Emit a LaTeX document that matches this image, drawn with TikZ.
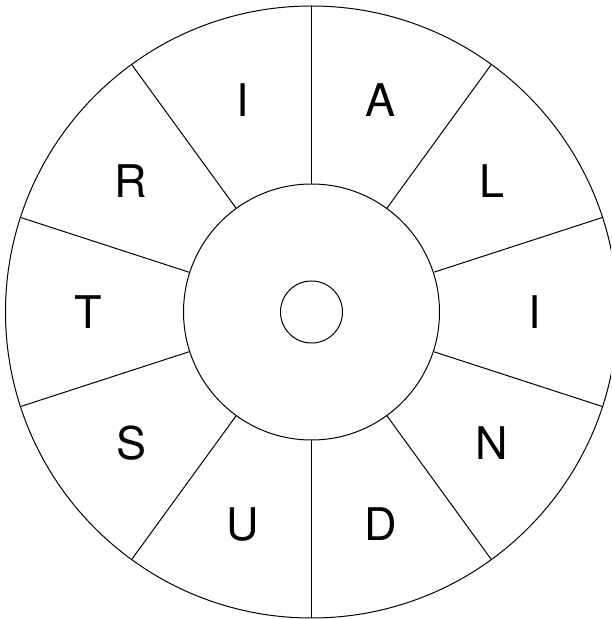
\documentclass[tikz,border=0pt]{standalone}
\usepackage{fontspec}
\setmainfont{TeX Gyre Heros}
\usetikzlibrary{calc}
\begin{document}
\begin{tikzpicture}[x=1pt,y=1pt,
  ring/.style={draw=black,line width=1pt},
  letter/.style={font=\fontsize{45}{45}\selectfont,inner sep=0pt,anchor=center}]
\useasboundingbox (0,0) rectangle (611,619);
\coordinate (c) at (311.5,307);
\begin{scope}
\clip (0,0) rectangle (611,619);
\draw[ring] (c) circle[radius=306];
\draw[ring] (c) circle[radius=128];
\draw[ring] (c) circle[radius=31];
\foreach \a in {90,54,18,-18,-54,-90,-126,-162,162,126}{
  \draw[ring] ($(c)+(\a:128)$) -- ($(c)+(\a:306)$);
}
\end{scope}
\foreach \a/\t/\n in {108/I/l1,72/A/l2,36/L/l3,0/I/l4,-36/N/l5,-72/D/l6,-108/U/l7,-144/S/l8,180/T/l9,144/R/l10}{
  \node[letter] (\n) at ($(c)+(\a:223)$) {\vphantom{I}\t};
}
\end{tikzpicture}
\end{document}
